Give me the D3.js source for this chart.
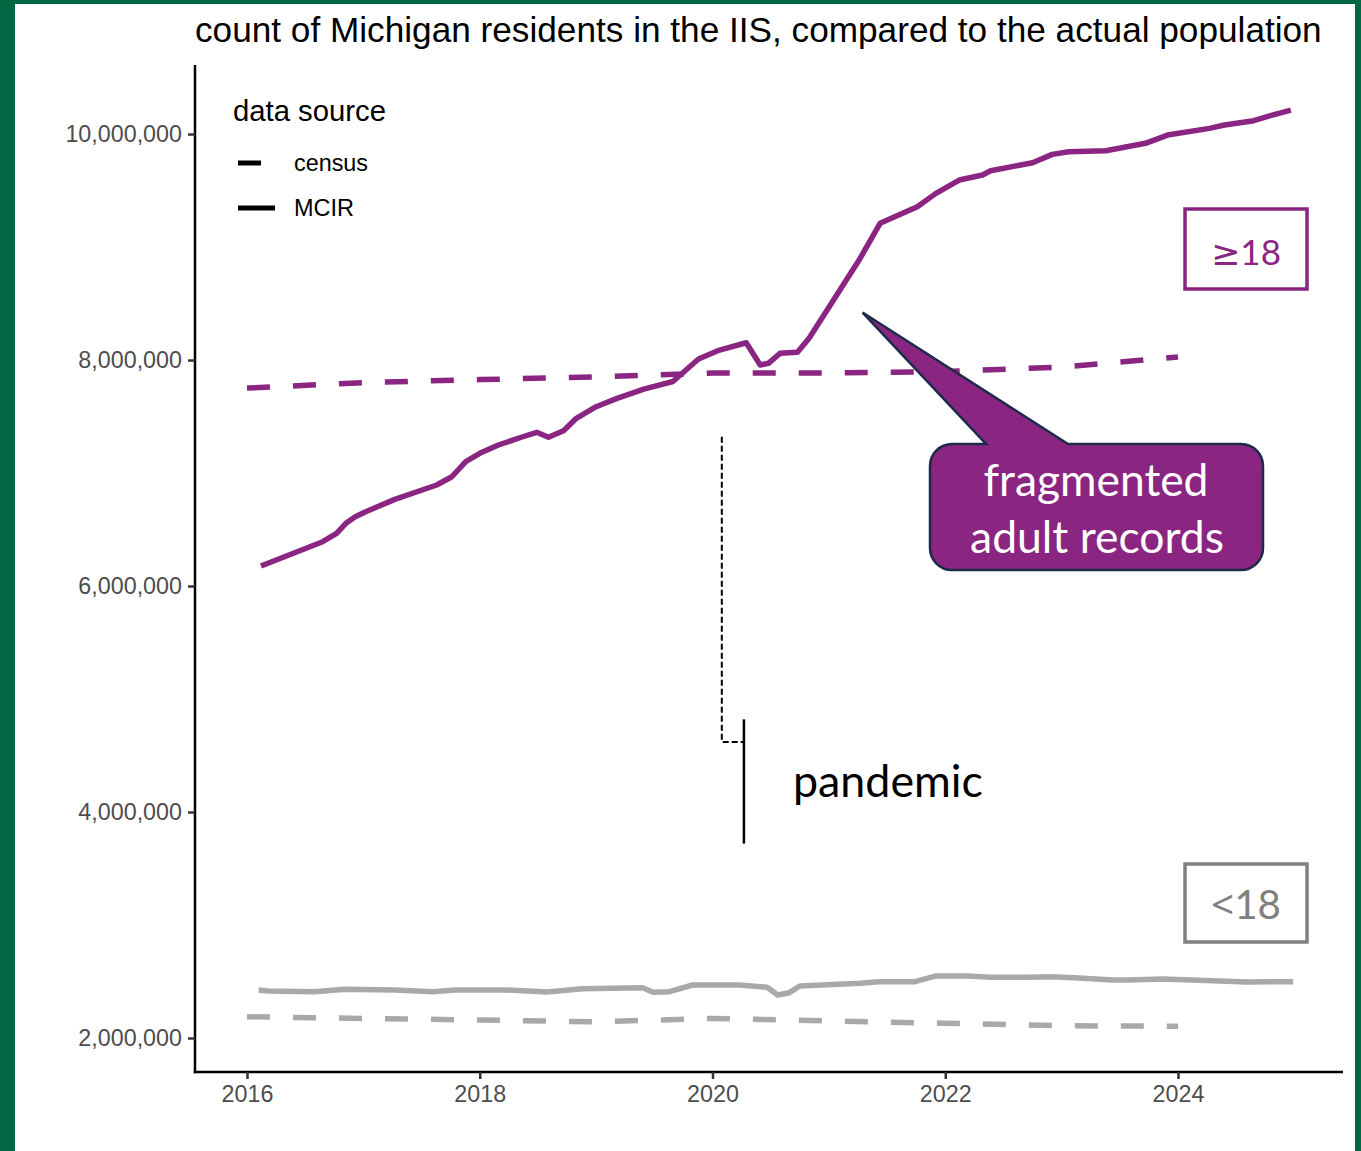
<!DOCTYPE html>
<html>
<head>
<meta charset="utf-8">
<script src="https://cdn.jsdelivr.net/npm/d3@7"></script>
<style>
  html, body { margin: 0; padding: 0; background: #ffffff; }
  svg { display: block; }
</style>
</head>
<body>
<svg id="chart" width="1361" height="1151"></svg>
<script>
// Census estimates (annual) by age group
const censusYears = [2016, 2017, 2018, 2019, 2020, 2021, 2022, 2023, 2024];
const censusAdult = [7752000, 7800000, 7827000, 7850000, 7885000, 7885000, 7898000, 7938000, 8027000];
const censusChild = [2188000, 2173000, 2159000, 2143000, 2173000, 2152000, 2130000, 2108000, 2104000];

// MCIR (IIS) resident counts, adults
const mcirAdultDates = [2016.12, 2016.65, 2016.77, 2016.85, 2016.93, 2017.02, 2017.27, 2017.63, 2017.76, 2017.88,
  2018.00, 2018.16, 2018.37, 2018.49, 2018.59, 2018.72, 2018.83, 2019.00, 2019.18, 2019.41,
  2019.66, 2019.88, 2020.06, 2020.29, 2020.41, 2020.48, 2020.58, 2020.73, 2020.83, 2021.26,
  2021.44, 2021.76, 2021.92, 2022.12, 2022.32, 2022.39, 2022.75, 2022.92, 2023.06, 2023.38,
  2023.72, 2023.91, 2024.27, 2024.40, 2024.65, 2024.81, 2024.97];
const mcirAdultValues = [6177000, 6392000, 6466000, 6555000, 6613000, 6658000, 6767000, 6894000, 6967000, 7100000,
  7174000, 7248000, 7321000, 7360000, 7316000, 7374000, 7484000, 7587000, 7661000, 7743000,
  7810000, 8009000, 8088000, 8153000, 7956000, 7971000, 8059000, 8068000, 8192000, 8885000,
  9210000, 9357000, 9475000, 9593000, 9637000, 9675000, 9746000, 9820000, 9843000, 9852000,
  9918000, 9991000, 10050000, 10080000, 10118000, 10168000, 10212000];

// MCIR (IIS) resident counts, children
const mcirChildDates = [2016.10, 2016.18, 2016.58, 2016.84, 2017.27, 2017.60, 2017.79, 2018.22, 2018.58, 2018.88,
  2019.40, 2019.49, 2019.63, 2019.83, 2020.23, 2020.47, 2020.56, 2020.66, 2020.75, 2021.27,
  2021.43, 2021.74, 2021.92, 2022.19, 2022.39, 2022.71, 2022.91, 2023.11, 2023.44, 2023.57,
  2023.87, 2024.30, 2024.59, 2024.99];
const mcirChildValues = [2425000, 2416000, 2410000, 2431000, 2425000, 2410000, 2425000, 2425000, 2407000, 2436000,
  2445000, 2404000, 2410000, 2469000, 2469000, 2449000, 2381000, 2401000, 2460000, 2484000,
  2498000, 2498000, 2549000, 2549000, 2537000, 2537000, 2542000, 2534000, 2513000, 2513000,
  2522000, 2507000, 2496000, 2498000];

// Axis ticks
const yTicks = [2000000, 4000000, 6000000, 8000000, 10000000];
const xTicks = [2016, 2018, 2020, 2022, 2024];

// Annotations
const pandemicDates = [2020.08, 2020.27];
const calloutTip = [2021.29, 8420000];

const PURPLE = "#8a2581";
const GRAY = "#a9a9a9";
const BOXGRAY = "#808080";
const SANS = "'Liberation Sans', Arial, sans-serif";
const CAL = "Lato, 'Open Sans', sans-serif";

const svg = d3.select("#chart");

// green slide frame
svg.append("rect").attr("x", 0).attr("y", 0).attr("width", 1361).attr("height", 1151).attr("fill", "#006843");
svg.append("rect").attr("x", 15).attr("y", 4).attr("width", 1340).attr("height", 1147).attr("fill", "#ffffff");

const plot = { left: 195, right: 1343, top: 65, bottom: 1072 };

const x = d3.scaleLinear().domain([2015.5532, 2025.4178]).range([plot.left, plot.right]);
const y = d3.scaleLinear().domain([1699000, 10611000]).range([plot.bottom, plot.top]);

function fit(sel, width) {
  const cur = sel.node().getComputedTextLength();
  const fs = parseFloat(sel.attr("font-size"));
  sel.attr("font-size", fs * width / cur);
  return sel;
}

// title
fit(svg.append("text")
  .attr("x", 195).attr("y", 42)
  .attr("font-family", SANS).attr("font-size", 34).attr("fill", "#000")
  .text("count of Michigan residents in the IIS, compared to the actual population"), 1127);

// axes
const yAxis = svg.append("g")
  .attr("transform", `translate(${plot.left},0)`)
  .call(d3.axisLeft(y).tickValues(yTicks).tickFormat(d3.format(",")).tickSize(7).tickSizeOuter(0).tickPadding(6));
const xAxis = svg.append("g")
  .attr("transform", `translate(0,${plot.bottom})`)
  .call(d3.axisBottom(x).tickValues(xTicks).tickFormat(d3.format("d")).tickSize(7).tickSizeOuter(0).tickPadding(6));

[yAxis, xAxis].forEach(g => {
  g.select(".domain").attr("stroke", "#000").attr("stroke-width", 2.5);
  g.selectAll(".tick line").attr("stroke", "#333").attr("stroke-width", 2.5);
  g.selectAll(".tick text").attr("font-family", SANS).attr("font-size", 23.3).attr("fill", "#4d4d4d");
});
yAxis.select(".domain").attr("d", `M0,${plot.top}V${plot.bottom + 1.25}`);
xAxis.select(".domain").attr("d", `M${plot.left - 1.25},0H${plot.right}`);

// lines
const line = d3.line().x(d => x(d[0])).y(d => y(d[1]));
const zip = (a, b) => a.map((v, i) => [v, b[i]]);

const g = svg.append("g").attr("fill", "none").attr("stroke-linejoin", "round");

g.append("path").datum(zip(censusYears, censusChild))
  .attr("d", line).attr("stroke", GRAY).attr("stroke-width", 5.5).attr("stroke-dasharray", "23,23");
g.append("path").datum(zip(mcirChildDates, mcirChildValues))
  .attr("d", line).attr("stroke", GRAY).attr("stroke-width", 5.5);
g.append("path").datum(zip(censusYears, censusAdult))
  .attr("d", line).attr("stroke", PURPLE).attr("stroke-width", 5.5).attr("stroke-dasharray", "23,23");
g.append("path").datum(zip(mcirAdultDates, mcirAdultValues))
  .attr("d", line).attr("stroke", PURPLE).attr("stroke-width", 5.5);

// legend
fit(svg.append("text").attr("x", 233).attr("y", 121)
  .attr("font-family", SANS).attr("font-size", 28).attr("fill", "#000").text("data source"), 153);
svg.append("line").attr("x1", 238).attr("x2", 275).attr("y1", 163).attr("y2", 163)
  .attr("stroke", "#000").attr("stroke-width", 5).attr("stroke-dasharray", "23,30");
svg.append("line").attr("x1", 238).attr("x2", 275).attr("y1", 208).attr("y2", 208)
  .attr("stroke", "#000").attr("stroke-width", 5);
fit(svg.append("text").attr("x", 294).attr("y", 171)
  .attr("font-family", SANS).attr("font-size", 23).attr("fill", "#000").text("census"), 74);
fit(svg.append("text").attr("x", 294).attr("y", 216)
  .attr("font-family", SANS).attr("font-size", 23).attr("fill", "#000").text("MCIR"), 60);

// pandemic bracket
const px0 = x(pandemicDates[0]), px1 = x(pandemicDates[1]);
svg.append("path")
  .attr("d", `M${px0},${y(7320000)}V${y(4620000)}H${px1}`)
  .attr("fill", "none").attr("stroke", "#000").attr("stroke-width", 2).attr("stroke-dasharray", "6,3");
svg.append("line").attr("x1", px1).attr("x2", px1).attr("y1", y(4820000)).attr("y2", y(3720000))
  .attr("stroke", "#000").attr("stroke-width", 2.5);
fit(svg.append("text").attr("x", 793).attr("y", 797)
  .attr("font-family", CAL).attr("font-size", 42).attr("fill", "#000").text("pandemic"), 190);

// callout for fragmented adult records
const tx = x(calloutTip[0]), ty = y(calloutTip[1]);
const bx0 = 930, bx1 = 1263, by0 = 444, by1 = 570, r = 22;
const callout = d3.path();
callout.moveTo(bx0 + r, by0);
callout.lineTo(986, by0);
callout.lineTo(tx, ty);
callout.lineTo(1068, by0);
callout.lineTo(bx1 - r, by0);
callout.arcTo(bx1, by0, bx1, by0 + r, r);
callout.lineTo(bx1, by1 - r);
callout.arcTo(bx1, by1, bx1 - r, by1, r);
callout.lineTo(bx0 + r, by1);
callout.arcTo(bx0, by1, bx0, by1 - r, r);
callout.lineTo(bx0, by0 + r);
callout.arcTo(bx0, by0, bx0 + r, by0, r);
callout.closePath();
svg.append("path").attr("d", callout.toString())
  .attr("fill", PURPLE).attr("stroke", "#1c2b4a").attr("stroke-width", 2.5).attr("stroke-linejoin", "miter");
fit(svg.append("text").attr("x", 1096).attr("y", 496).attr("text-anchor", "middle")
  .attr("font-family", CAL).attr("font-size", 44).attr("fill", "#fff").text("fragmented"), 225);
fit(svg.append("text").attr("x", 1097).attr("y", 553).attr("text-anchor", "middle")
  .attr("font-family", CAL).attr("font-size", 44).attr("fill", "#fff").text("adult records"), 254);

// age group labels
function ageLabel(bx, by, h, color, symbol, yText) {
  svg.append("rect").attr("x", bx).attr("y", by).attr("width", 122).attr("height", h)
    .attr("fill", "#fff").attr("stroke", color).attr("stroke-width", 3.5);
  const t = svg.append("text").attr("x", bx + 61).attr("y", yText).attr("text-anchor", "middle")
    .attr("font-size", 40).attr("fill", color);
  t.append("tspan").attr("font-family", "'Noto Sans', 'DejaVu Sans', sans-serif").text(symbol);
  t.append("tspan").attr("font-family", CAL).text("18");
  fit(t, 70);
}
ageLabel(1185, 209, 80, PURPLE, "≥", 265);
ageLabel(1185, 864, 78, BOXGRAY, "<", 919);
</script>
</body>
</html>
